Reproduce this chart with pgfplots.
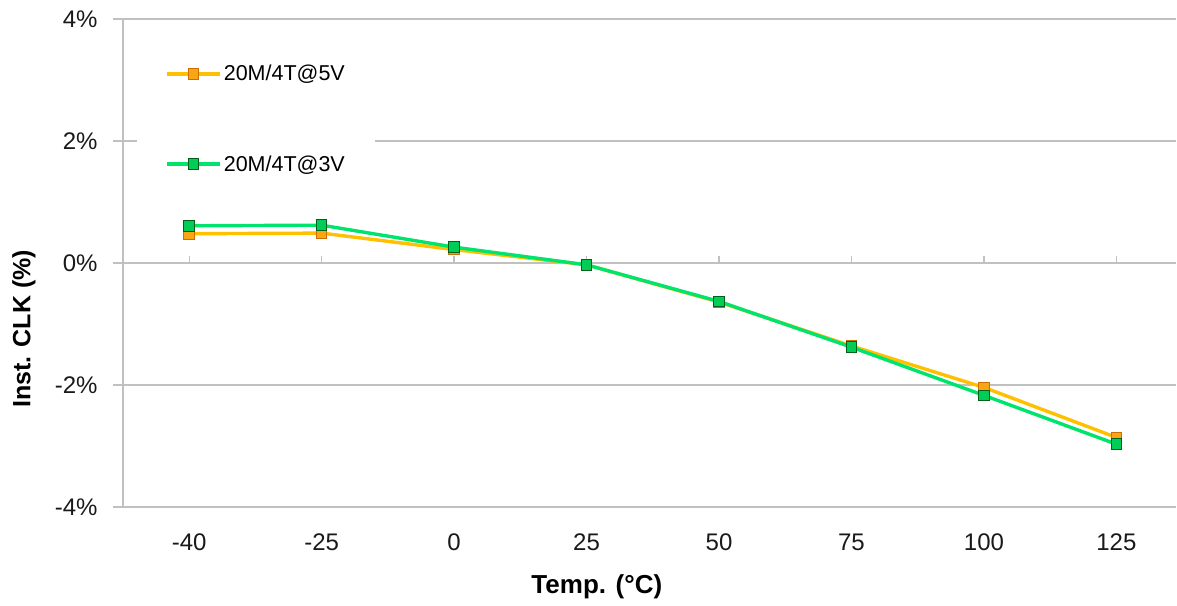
\documentclass[border=0pt]{standalone}
\usepackage{fontspec}
\setmainfont{Liberation Sans}
\usepackage{pgfplots}
\pgfplotsset{compat=1.18}
\definecolor{gridgray}{RGB}{192,192,192}
\definecolor{orLine}{RGB}{255,192,0}
\definecolor{orFill}{RGB}{250,165,20}
\definecolor{orEdge}{RGB}{205,110,0}
\definecolor{grLine}{RGB}{0,228,110}
\definecolor{grFill}{RGB}{0,205,85}
\definecolor{grEdge}{RGB}{0,95,25}
\begin{document}
\begin{tikzpicture}
\begin{axis}[
  at={(0,0)}, anchor=south west,
  scale only axis, width=1053bp, height=488bp,
  xmin=-0.5, xmax=7.45, ymin=-4, ymax=4,
  axis x line=bottom, axis y line=left,
  axis line style={gridgray, line width=1.3bp, -},
  xtick={0,...,7}, xticklabels={-40,-25,0,25,50,75,100,125},
  x tick style={draw=none},
  ytick={-4,-2,0,2,4}, yticklabels={-4\%,-2\%,0\%,2\%,4\%},
  y tick style={gridgray, line width=1.3bp},
  tick align=outside, major tick length=10bp,
  ymajorgrids, grid style={gridgray, line width=1.3bp},
  tick label style={font=\fontsize{24bp}{28bp}\selectfont, text=black!90},
  yticklabel style={xshift=-12bp},
  xticklabel style={yshift=-13bp},
  xlabel={\textbf{Temp. (°C)}},
  xlabel style={at={(axis description cs:0.450,-0.163)}, anchor=center, font=\fontsize{26bp}{30bp}\selectfont},
  ylabel={\textbf{Inst. CLK (\%)}},
  ylabel style={at={(axis description cs:-0.094,0.365)}, anchor=center, rotate=0, font=\fontsize{25bp}{30bp}\selectfont},
  legend cell align=left,
  legend style={at={(axis description cs:0.0135,0.975)}, anchor=north west, draw=none, fill=white,
    font=\fontsize{21.5bp}{25bp}\selectfont, row sep=69bp, inner xsep=28bp, inner ysep=32bp},
  legend image code/.code={\draw[#1, mark repeat=2, mark phase=2] plot coordinates {(0bp,0bp) (26.5bp,0bp) (53bp,0bp)};},
]
\addplot[gridgray, line width=1.3bp, ycomb, forget plot] coordinates {(0,0.115)(1,0.115)(2,0.115)(3,0.115)(4,0.115)(5,0.115)(6,0.115)(7,0.115)};
\addplot[orLine, line width=3.4bp, mark=square*, mark size=5.3bp, mark options={fill=orFill, draw=orEdge, line width=1bp}]
  coordinates {(0,0.48)(1,0.49)(2,0.22)(3,-0.03)(4,-0.64)(5,-1.36)(6,-2.04)(7,-2.86)};
\addlegendentry{20M/4T@5V}
\addplot[grLine, line width=3.4bp, mark=square*, mark size=5.3bp, mark options={fill=grFill, draw=grEdge, line width=1bp}]
  coordinates {(0,0.61)(1,0.62)(2,0.26)(3,-0.03)(4,-0.63)(5,-1.38)(6,-2.17)(7,-2.97)};
\addlegendentry{20M/4T@3V}
\end{axis}
\useasboundingbox (-123bp,-99bp) rectangle (1054bp,507bp);
\end{tikzpicture}
\end{document}
